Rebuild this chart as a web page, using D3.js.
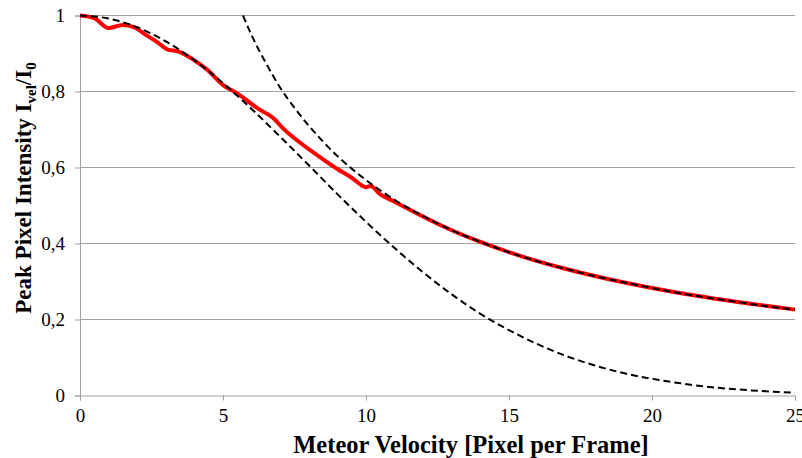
<!DOCTYPE html>
<html>
<head>
<meta charset="utf-8">
<script src="https://cdn.jsdelivr.net/npm/d3@7"></script>
<style>
  body { margin: 0; background: #fff; }
  text { font-family: "Liberation Serif", "Times New Roman", serif; fill: #000; }
</style>
</head>
<body>
<svg id="chart" width="802" height="458"></svg>
<script>
// measured intensity (red)
var measV = [0, 0.5, 1.0, 1.5, 1.9, 2.3, 2.7, 3.05, 3.45, 4.0, 4.45, 5.0, 5.5, 6.2, 6.8, 7.1, 7.7, 8.3, 9.0, 9.5, 9.9, 10.0, 10.15, 10.5, 11.0, 11.5, 12.5, 14, 15.5, 17, 18.5, 20, 21.5, 23, 25];
var measI = [1.0, 0.993, 0.967, 0.975, 0.969, 0.949, 0.930, 0.911, 0.905, 0.882, 0.857, 0.817, 0.795, 0.756, 0.727, 0.703, 0.665, 0.632, 0.596, 0.573, 0.551, 0.548, 0.551, 0.529, 0.51, 0.49, 0.452, 0.404, 0.365, 0.333, 0.306, 0.283, 0.263, 0.246, 0.226];

// low velocity approximation (dashed)
var lowV = [0, 1, 2, 3, 4, 5, 6, 7, 8, 9, 10, 11, 12, 13, 14, 15, 16, 17, 18, 19, 20, 21, 22, 23, 24, 25];
var lowI = [1, 0.992, 0.969, 0.932, 0.882, 0.822, 0.754, 0.681, 0.606, 0.530, 0.457, 0.388, 0.324, 0.266, 0.215, 0.172, 0.135, 0.104, 0.079, 0.059, 0.044, 0.032, 0.0226, 0.0159, 0.011, 0.0075];

// high velocity approximation (dashed)
var highV = [5.7, 6, 6.5, 7, 7.5, 8, 8.5, 9, 9.5, 10, 11, 12, 13, 14, 15, 16, 17, 18, 19, 20, 21, 22, 23, 24, 25];
var highI = [1.0, 0.948, 0.875, 0.81, 0.757, 0.71, 0.668, 0.63, 0.597, 0.567, 0.515, 0.472, 0.435, 0.404, 0.377, 0.353, 0.333, 0.314, 0.298, 0.283, 0.269, 0.257, 0.246, 0.235, 0.226];

var xTicks = [0, 5, 10, 15, 20, 25];
var yTicks = [0, 0.2, 0.4, 0.6, 0.8, 1];

var svg = d3.select("#chart");
var mLeft = 80, mRight = 795, mTop = 15.5, mBottom = 395.5;
var serif = "'Liberation Serif', 'Times New Roman', serif";

var x = d3.scaleLinear().domain([0, 25]).range([mLeft, mRight]);
var y = d3.scaleLinear().domain([0, 1]).range([mBottom, mTop]);

var fmt = d => d === 0 || d === 1 ? String(d) : d3.format(".1f")(d).replace(".", ",");

// horizontal gridlines
svg.append("g")
  .selectAll("line")
  .data(yTicks.filter(d => d > 0))
  .join("line")
  .attr("x1", mLeft).attr("x2", mRight)
  .attr("y1", d => y(d)).attr("y2", d => y(d))
  .attr("stroke", "#a0a0a0").attr("stroke-width", 1);

// x axis
var xAxis = svg.append("g")
  .attr("transform", `translate(0,${mBottom})`)
  .call(d3.axisBottom(x).tickValues(xTicks).tickSize(5).tickPadding(8).tickFormat(d3.format("d")))
  .attr("font-family", serif).attr("font-size", 19);
xAxis.select(".domain").attr("stroke", "#a0a0a0");
xAxis.selectAll(".tick line").attr("stroke", "#a0a0a0");

// y axis
var yAxis = svg.append("g")
  .attr("transform", `translate(${mLeft},0)`)
  .call(d3.axisLeft(y).tickValues(yTicks).tickSize(5).tickPadding(10).tickFormat(fmt))
  .attr("font-family", serif).attr("font-size", 19);
yAxis.select(".domain").attr("stroke", "#a0a0a0");
yAxis.selectAll(".tick line").attr("stroke", "#a0a0a0");

var line = d3.line().x(d => x(d[0])).y(d => y(d[1])).curve(d3.curveMonotoneX);

// measured curve first, approximations drawn on top
svg.append("path")
  .datum(d3.zip(measV, measI))
  .attr("d", line)
  .attr("fill", "none").attr("stroke", "#ff0000").attr("stroke-width", 4)
  .attr("stroke-linejoin", "round");

svg.append("path")
  .datum(d3.zip(lowV, lowI))
  .attr("d", line)
  .attr("fill", "none").attr("stroke", "#000").attr("stroke-width", 2)
  .attr("stroke-dasharray", "7,4");

svg.append("path")
  .datum(d3.zip(highV, highI))
  .attr("d", line)
  .attr("fill", "none").attr("stroke", "#000").attr("stroke-width", 2)
  .attr("stroke-dasharray", "7,4");

// axis titles
svg.append("text")
  .attr("x", 471).attr("y", 453)
  .attr("text-anchor", "middle")
  .attr("font-size", 24.5).attr("font-weight", "bold")
  .text("Meteor Velocity [Pixel per Frame]");

var yt = svg.append("text")
  .attr("transform", "translate(31,188) rotate(-90)")
  .attr("text-anchor", "middle")
  .attr("font-size", 23).attr("font-weight", "bold");
yt.append("tspan").text("Peak Pixel Intensity  I");
yt.append("tspan").attr("font-size", 15).attr("dy", 5).text("vel");
yt.append("tspan").attr("dy", -5).text("/I");
yt.append("tspan").attr("font-size", 15).attr("dy", 5).text("0");
</script>
</body>
</html>
